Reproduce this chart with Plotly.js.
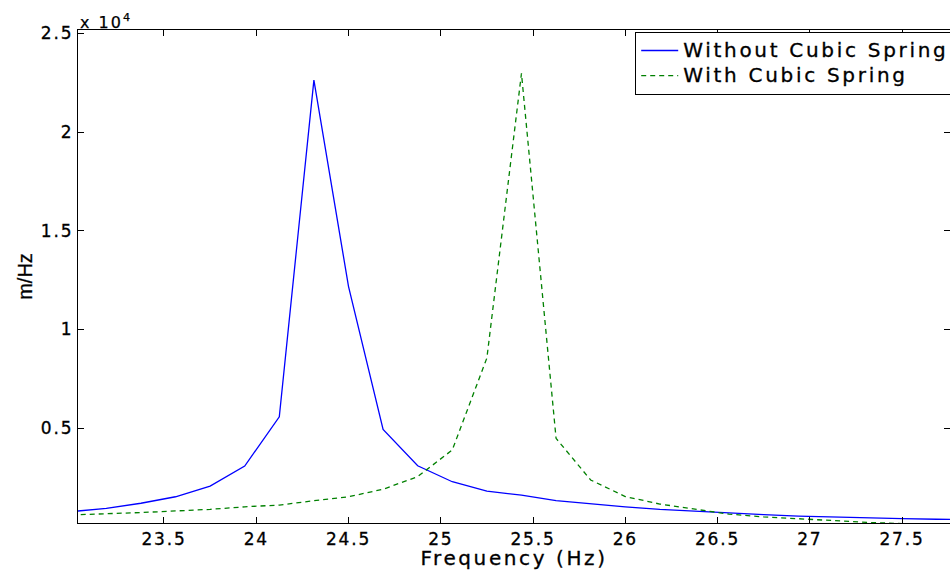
<!DOCTYPE html>
<html>
<head>
<meta charset="utf-8">
<script src="https://cdn.plot.ly/plotly-3.0.1.min.js"></script>
<style>
html,body{margin:0;padding:0;background:#fff;overflow:hidden;}
.xtick text, .ytick text {letter-spacing:1.8px; stroke:#000; stroke-width:0.3px;}
.xtitle {letter-spacing:2.6px; stroke:#000; stroke-width:0.3px;}
.ytitle {stroke:#000; stroke-width:0.3px;}
.legendtext {letter-spacing:2.7px; font-size:20px !important; stroke:#000; stroke-width:0.3px;}
.annotation-text {letter-spacing:2px; stroke:#000; stroke-width:0.25px;}
</style>
</head>
<body>
<div id="chart" style="width:950px;height:570px;"></div>
<script>
// Frequency grid (Hz)
const freq = [23.0, 23.1875, 23.375, 23.5625, 23.75, 23.9375, 24.125, 24.3125, 24.5, 24.6875,
              24.875, 25.0625, 25.25, 25.4375, 25.625, 25.8125, 26.0, 26.1875, 26.375, 26.5625,
              26.75, 26.9375, 27.125, 27.3125, 27.5, 27.6875, 27.875];
// Response without cubic spring (m/Hz)
const withoutCubic = [770, 930, 1190, 1520, 2060, 3075, 5570, 22630, 12180, 4930,
                      3090, 2280, 1810, 1600, 1320, 1150, 1010, 880, 780, 680,
                      610, 540, 490, 440, 410, 380, 360];
// Response with cubic spring (m/Hz)
const withCubic = [600, 650, 720, 800, 880, 1010, 1100, 1320, 1520, 1900,
                   2540, 3890, 8550, 22970, 4480, 2370, 1530, 1150, 880, 640,
                   500, 400, 300, 220, 160, 120, 100];
const seriesNames = ['Without Cubic Spring', 'With Cubic Spring'];
const yTickVals = [5000, 10000, 15000, 20000, 25000];
const yTickText = ['0.5', '1', '1.5', '2', '2.5'];
const xTickVals = [23.5, 24, 24.5, 25, 25.5, 26, 26.5, 27, 27.5];
const xTickText = ['23.5', '24', '24.5', '25', '25.5', '26', '26.5', '27', '27.5'];

const FONT = 'DejaVu Sans, Liberation Sans, Arial, sans-serif';

const traces = [
  {x: freq, y: withoutCubic, type: 'scatter', mode: 'lines', name: seriesNames[0],
   line: {color: 'rgb(0,0,255)', width: 1.3}},
  {x: freq, y: withCubic, type: 'scatter', mode: 'lines', name: seriesNames[1],
   line: {color: 'rgb(0,128,0)', width: 1.3, dash: '5px,4px'}}
];

const layout = {
  width: 950, height: 570,
  margin: {l: 78, r: 0, t: 30, b: 47, pad: 0, autoexpand: false},
  paper_bgcolor: '#fff', plot_bgcolor: '#fff',
  font: {family: FONT, color: '#000', size: 17},
  showlegend: true,
  legend: {x: 0.639, y: 0.996, xanchor: 'left', yanchor: 'top',
           bgcolor: '#fff', bordercolor: '#000', borderwidth: 1,
           font: {family: FONT, size: 17, color: '#000'},
           tracegroupgap: 0, itemwidth: 37},
  xaxis: {range: [23.034, 27.76], tickmode: 'array', tickvals: xTickVals, ticktext: xTickText,
          ticks: 'inside', ticklen: 6, tickcolor: '#000', tickwidth: 1,
          showline: true, linecolor: '#000', linewidth: 1.3, mirror: 'ticks',
          showgrid: false, zeroline: false,
          tickfont: {family: FONT, size: 17},
          title: {text: 'Frequency (Hz)', font: {family: FONT, size: 20}, standoff: 0}},
  yaxis: {range: [190, 25170], tickmode: 'array', tickvals: yTickVals, ticktext: yTickText,
          ticks: 'inside', ticklen: 6, tickcolor: '#000', tickwidth: 1,
          showline: true, linecolor: '#000', linewidth: 1.3, mirror: 'ticks',
          showgrid: false, zeroline: false,
          tickfont: {family: FONT, size: 17},
          title: {text: 'm/Hz', font: {family: 'Liberation Sans, Arial, sans-serif', size: 20}, standoff: 3}},
  annotations: [{
    xref: 'paper', yref: 'paper', x: 0, y: 1, xanchor: 'left', yanchor: 'bottom',
    text: 'x 10<sup>4</sup>', showarrow: false, font: {family: FONT, size: 16}, yshift: -4
  }]
};

Plotly.newPlot('chart', traces, layout, {staticPlot: true, displayModeBar: false});
</script>
</body>
</html>
